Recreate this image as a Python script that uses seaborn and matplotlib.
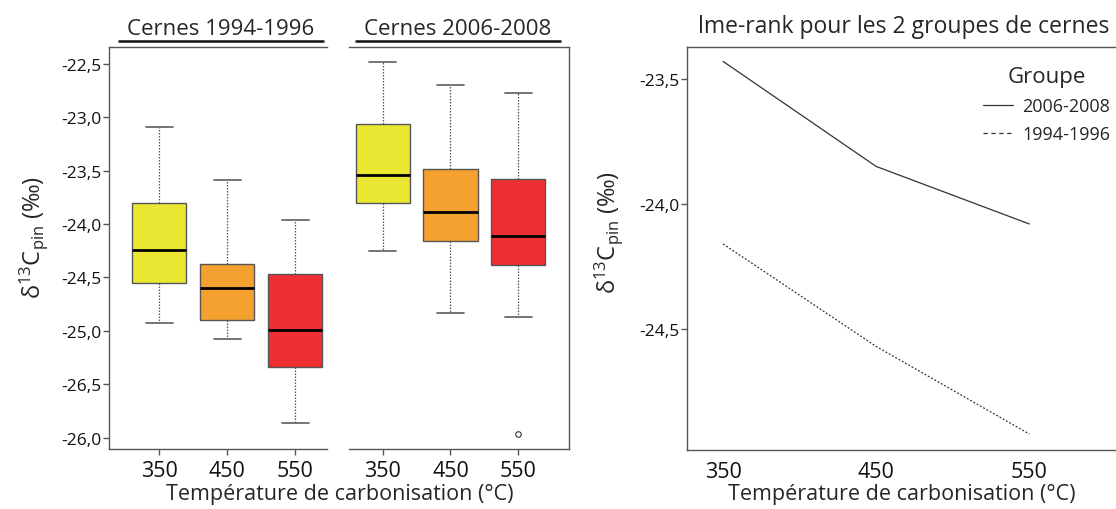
import pandas as pd
import matplotlib
matplotlib.use("Agg")
import matplotlib.pyplot as plt
from matplotlib.lines import Line2D
import seaborn as sns

# values
temps = ["350", "450", "550"]

# Cernes 1994-1996 (five-number summaries)
whishi_9496 = [-23.09, -23.59, -23.96]
q3_9496 = [-23.80, -24.37, -24.47]
med_9496 = [-24.24, -24.60, -24.99]
q1_9496 = [-24.55, -24.90, -25.34]
whislo_9496 = [-24.93, -25.08, -25.86]
fliers_9496 = [[], [], []]

# Cernes 2006-2008
whishi_0608 = [-22.48, -22.70, -22.77]
q3_0608 = [-23.06, -23.48, -23.58]
med_0608 = [-23.54, -23.89, -24.11]
q1_0608 = [-23.80, -24.16, -24.38]
whislo_0608 = [-24.25, -24.83, -24.87]
fliers_0608 = [[], [], [-25.97]]

box_yticks = [-22.5, -23.0, -23.5, -24.0, -24.5, -25.0, -25.5, -26.0]
box_yticklabels = ["-22,5", "-23,0", "-23,5", "-24,0", "-24,5", "-25,0", "-26,5", "-26,0"]

# lme-rank
line_temps = [350, 450, 550]
lme_0608 = [-23.43, -23.85, -24.08]
lme_9496 = [-24.16, -24.57, -24.92]
lme_yticks = [-23.5, -24.0, -24.5]
lme_yticklabels = ["-23,5", "-24,0", "-24,5"]

box_colors = ["#e9e731", "#f5a12f", "#ee2e31"]
grey = "#555555"

sns.set_style("ticks")
plt.rcParams["font.family"] = ["Open Sans", "DejaVu Sans"]
plt.rcParams["mathtext.fontset"] = "custom"
plt.rcParams["mathtext.rm"] = "Open Sans"
plt.rcParams["mathtext.default"] = "regular"
plt.rcParams["axes.edgecolor"] = grey
plt.rcParams["axes.linewidth"] = 1.0
plt.rcParams["xtick.color"] = grey
plt.rcParams["ytick.color"] = grey
plt.rcParams["xtick.labelcolor"] = "#111111"
plt.rcParams["ytick.labelcolor"] = "#111111"

fig = plt.figure(figsize=(11.16, 5.10), dpi=100)
ax1 = fig.add_axes([0.0979, 0.1176, 0.1953, 0.7877])
ax2 = fig.add_axes([0.3123, 0.1176, 0.1972, 0.7877])
ax3 = fig.add_axes([0.6153, 0.1157, 0.3900, 0.7908])


def draw_boxes(ax, hi, q3, med, q1, lo, fl):
    stats = []
    for i in range(len(temps)):
        stats.append(dict(med=med[i], q1=q1[i], q3=q3[i], whislo=lo[i],
                          whishi=hi[i], fliers=fl[i], label=temps[i]))
    res = ax.bxp(stats, positions=range(len(temps)), widths=0.8, capwidths=0.4,
                 patch_artist=True,
                 boxprops=dict(edgecolor=grey, linewidth=1.0),
                 medianprops=dict(color="black", linewidth=2.0),
                 whiskerprops=dict(color=grey, linewidth=0.9, linestyle=(0, (1.2, 1.2))),
                 capprops=dict(color="#6a6a6a", linewidth=1.3),
                 flierprops=dict(marker="o", markersize=4, markerfacecolor="none",
                                 markeredgecolor="#333333", markeredgewidth=0.8))
    for patch, c in zip(res["boxes"], box_colors):
        patch.set_facecolor(c)
    ax.set_xticks(range(len(temps)))
    ax.set_xticklabels(temps, fontsize=15.5)
    ax.set_ylim(-26.108, -22.343)
    ax.tick_params(axis="x", length=4, width=1, pad=4)


draw_boxes(ax1, whishi_9496, q3_9496, med_9496, q1_9496, whislo_9496, fliers_9496)
draw_boxes(ax2, whishi_0608, q3_0608, med_0608, q1_0608, whislo_0608, fliers_0608)

ax1.set_xlim(-0.737, 2.472)
ax2.set_xlim(-0.504, 2.742)
ax1.set_yticks(box_yticks)
ax1.set_yticklabels(box_yticklabels, fontsize=12.5)
ax1.tick_params(axis="y", length=4, width=1, pad=1.5)
ax1.spines["right"].set_visible(False)
ax2.spines["left"].set_visible(False)
ax2.set_yticks([])

# underlined panel titles
for ax, title, xc, x0, x1 in [(ax1, "Cernes 1994-1996", 0.512, 0.042, 0.983),
                              (ax2, "Cernes 2006-2008", 0.4975, 0.030, 0.966)]:
    ax.text(xc, 1.0335, title, transform=ax.transAxes, ha="center", va="baseline",
            fontsize=16)
    ax.add_line(Line2D([x0, x1], [1.0157, 1.0157], transform=ax.transAxes,
                       color="#111111", linewidth=1.8, solid_capstyle="butt",
                       clip_on=False))

ylab = "δ$^{13}$C$_{pin}$ (‰)"
fig.text(0.0305, 0.535, ylab, rotation=90, ha="center", va="center", fontsize=17)
fig.text(0.3042, 0.031, "Température de carbonisation (°C)", ha="center",
         va="center", fontsize=15.5)

# lme-rank panel
df = pd.DataFrame({
    "Température": line_temps * 2,
    "d13C": lme_0608 + lme_9496,
    "Groupe": ["2006-2008"] * 3 + ["1994-1996"] * 3,
})
sns.lineplot(data=df, x="Température", y="d13C", style="Groupe",
             style_order=["2006-2008", "1994-1996"],
             dashes={"2006-2008": "", "1994-1996": (1.5, 1.5)},
             color="#333333", linewidth=0.9, ax=ax3)
ax3.set_xlim(326.2, 610.5)
ax3.set_ylim(-24.984, -23.371)
ax3.set_xticks(line_temps)
ax3.set_xticklabels([str(t) for t in line_temps], fontsize=15.5)
ax3.set_yticks(lme_yticks)
ax3.set_yticklabels(lme_yticklabels, fontsize=12.5)
ax3.tick_params(axis="x", length=0, pad=8)
ax3.tick_params(axis="y", length=4, width=1, pad=1.5)
ax3.spines["right"].set_visible(False)
ax3.set_xlabel("")
ax3.set_ylabel("")

handles, labels = ax3.get_legend_handles_labels()
leg = ax3.legend(handles, labels, title="Groupe", frameon=False, fontsize=13,
                 title_fontsize=16, loc="upper left",
                 bbox_to_anchor=(0.8805, 0.868), bbox_transform=fig.transFigure,
                 borderpad=0, borderaxespad=0, handlelength=1.7, handletextpad=0.5,
                 labelspacing=0.55)
for line, lab in zip(leg.get_lines(), labels):
    if lab == "1994-1996":
        line.set_linestyle((0, (3.5, 2.8)))

fig.text(0.8096, 0.935, "lme-rank pour les 2 groupes de cernes", ha="center",
         va="baseline", fontsize=16.5)
fig.text(0.545, 0.545, ylab, rotation=90, ha="center", va="center", fontsize=17)
fig.text(0.8078, 0.031, "Température de carbonisation (°C)", ha="center",
         va="center", fontsize=15.5)

fig.savefig("out.png", dpi=100)
